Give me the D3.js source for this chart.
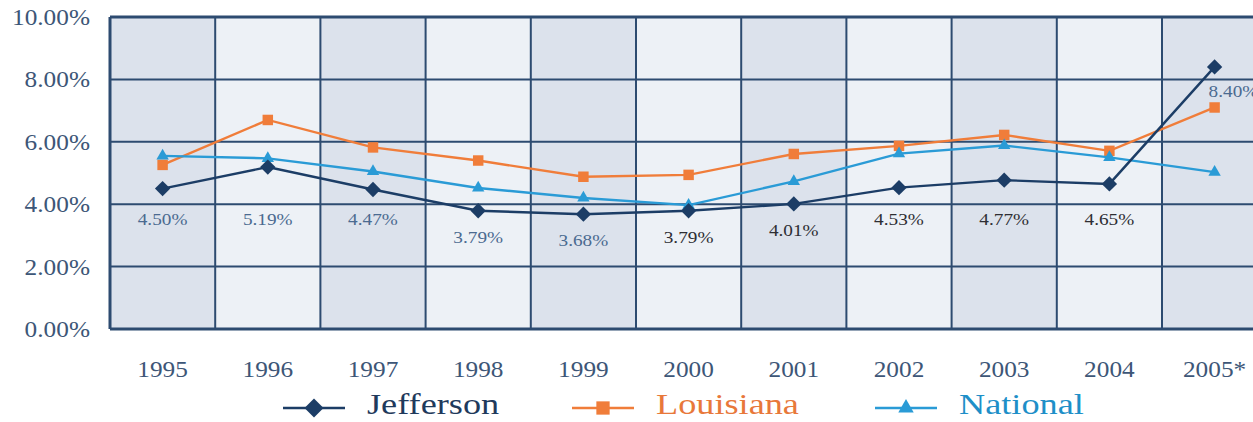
<!DOCTYPE html>
<html><head><meta charset="utf-8">
<script src="https://cdn.jsdelivr.net/npm/d3@7"></script>
<style>
html,body{margin:0;padding:0;background:#fff;overflow:hidden;}
svg{display:block;}
svg text{font-family:'Liberation Serif','Times New Roman','DejaVu Serif',serif;}
</style></head>
<body>
<svg id="chart" width="1253" height="422"></svg>
<script>
const years = ["1995","1996","1997","1998","1999","2000","2001","2002","2003","2004","2005*"];
const jefferson = [4.50,5.19,4.47,3.79,3.68,3.79,4.01,4.53,4.77,4.65,8.40];
const louisiana = [5.26,6.70,5.82,5.40,4.88,4.94,5.61,5.87,6.22,5.71,7.10];
const national  = [5.55,5.47,5.05,4.52,4.20,3.97,4.73,5.62,5.88,5.50,5.03];
const yTicks = [0,2,4,6,8,10];
const seriesNames = ["Jefferson","Louisiana","National"];

(function(){
const svg = d3.select("#chart");
const FONT = "'Liberation Serif','Times New Roman','DejaVu Serif',serif";
const mLeft = 110, mTop = 17, mBottom = 329, step = 105.2;
const x = d3.scaleBand().domain(years).range([mLeft, mLeft + step*years.length]).padding(0);
const y = d3.scaleLinear().domain([0,10]).range([mBottom, mTop]);
const gridColor = "#2d4b70";

// widen Times glyphs to approximate the Palatino-like face of the original
function stretch(sel, f) {
  sel.each(function(){
    const w = this.getComputedTextLength();
    d3.select(this).attr("textLength", w * f).attr("lengthAdjust", "spacingAndGlyphs");
  });
}

svg.append("g").selectAll("rect").data(years).join("rect")
  .attr("x", d => x(d)).attr("y", mTop)
  .attr("width", x.bandwidth()).attr("height", mBottom - mTop)
  .attr("fill", (d,i) => i % 2 === 0 ? "#dce2ec" : "#edf1f6");

svg.append("g").selectAll("line").data(yTicks).join("line")
  .attr("x1", mLeft).attr("x2", mLeft + step*years.length)
  .attr("y1", d => y(d)).attr("y2", d => y(d))
  .attr("stroke", gridColor).attr("stroke-width", d => (d===0||d===10)?3:2);

svg.append("g").selectAll("line").data(years.concat(["end"])).join("line")
  .attr("x1", (d,i) => mLeft + i*step).attr("x2", (d,i) => mLeft + i*step)
  .attr("y1", mTop).attr("y2", mBottom)
  .attr("stroke", gridColor).attr("stroke-width", (d,i) => i===0?3:2);

svg.append("g").selectAll("text").data(yTicks).join("text")
  .attr("font-family", FONT)
  .attr("x", 90).attr("y", d => y(d)).attr("dy", "0.35em")
  .attr("text-anchor", "end").attr("font-size", 23).attr("fill", "#3d5677")
  .text(d => d.toFixed(2) + "%")
  .call(stretch, 1.1);

svg.append("g").selectAll("text").data(years).join("text")
  .attr("font-family", FONT)
  .attr("x", d => x(d) + x.bandwidth()/2).attr("y", 369).attr("dy", "0.35em")
  .attr("text-anchor", "middle").attr("font-size", 23).attr("fill", "#3d5677")
  .text(d => d)
  .call(stretch, 1.1);

const cx = d => x(d) + x.bandwidth()/2;
const colors = {Jefferson:"#1c3d66", Louisiana:"#f07d3a", National:"#2a9bd6"};
const lineGen = d3.line().x(d => cx(d.year)).y(d => y(d.v));
const mk = arr => years.map((yr,i) => ({year: yr, v: arr[i]}));

const symType = {Jefferson: d3.symbolDiamond2, Louisiana: d3.symbolSquare2, National: d3.symbolTriangle2};
const symSize = {Jefferson: 150, Louisiana: 140, National: 110};
const legSize = {Jefferson: 230, Louisiana: 225, National: 170};

function drawSeries(name, arr) {
  const data = mk(arr);
  svg.append("path").datum(data).attr("d", lineGen)
    .attr("fill","none").attr("stroke", colors[name]).attr("stroke-width", 2.4);
  svg.append("g").selectAll("path").data(data).join("path")
    .attr("transform", d => `translate(${cx(d.year)},${y(d.v)})`)
    .attr("d", d3.symbol().type(symType[name]).size(symSize[name])).attr("fill", colors[name]);
}
drawSeries("Louisiana", louisiana);
drawSeries("National", national);
drawSeries("Jefferson", jefferson);

const labelData = mk(jefferson);
const last = years.length - 1;
function labelY(d, i) {
  if (i === last) return y(d.v) + 24;
  let ly = y(d.v) + 26;
  if (Math.abs(ly - y(4)) < 12) ly = y(4) + 15;
  return ly;
}
svg.append("g").selectAll("text").data(labelData).join("text")
  .attr("font-family", FONT)
  .attr("x", (d,i) => i === last ? cx(d.year) - 6 : cx(d.year))
  .attr("y", labelY)
  .attr("dy", "0.35em")
  .attr("text-anchor", (d,i) => i === last ? "start" : "middle")
  .attr("font-size", 17.5)
  .attr("fill", (d,i) => (i >= 5 && i <= 9) ? "#2e2e33" : "#4b6a90")
  .text(d => d.v.toFixed(2) + "%")
  .call(stretch, 1.1);

const legendX = [283, 572, 875];
const legend = svg.append("g").selectAll("g").data(seriesNames).join("g")
  .attr("transform", (d,i) => `translate(${legendX[i]},408)`);
legend.append("line").attr("x1",0).attr("x2",62).attr("y1",0).attr("y2",0)
  .attr("stroke", d => colors[d]).attr("stroke-width", 2.6);
legend.append("path").attr("transform","translate(31,0)")
  .attr("d", d => d3.symbol().type(symType[d]).size(legSize[d])()).attr("fill", d => colors[d]);
legend.append("text").attr("font-family", FONT)
  .attr("x", 84).attr("y", 6)
  .attr("font-size", 29)
  .attr("fill", d => d==="Jefferson" ? "#1f3a5c" : d==="Louisiana" ? "#e8783a" : "#1e8fc8")
  .text(d => d)
  .call(stretch, 1.25);
})();
</script>
</body></html>
